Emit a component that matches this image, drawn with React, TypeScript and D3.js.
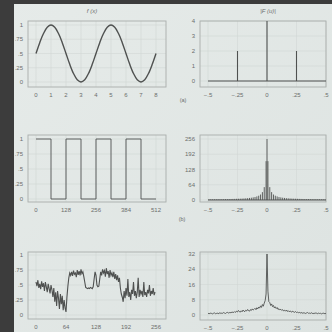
import React from 'react';
import * as d3 from 'd3';

// ---- data ----
const sineStep = 0.25;
const sineValues = [0.5, 0.69, 0.85, 0.96, 1, 0.96, 0.85, 0.69, 0.5, 0.31, 0.15, 0.04, 0, 0.04, 0.15, 0.31,
  0.5, 0.69, 0.85, 0.96, 1, 0.96, 0.85, 0.69, 0.5, 0.31, 0.15, 0.04, 0, 0.04, 0.15, 0.31, 0.5];

const impulseU = [-0.25, 0, 0.25];
const impulseMag = [2, 4, 2];

const squareEdges = [0, 64, 128, 192, 256, 320, 384, 448, 512];
const squareLevels = [1, 0, 1, 0, 1, 0, 1, 0, 0];

const squareDC = 256;
const harmonicK = [1, 3, 5, 7, 9, 11, 13, 15, 17, 19, 21, 23, 25, 27, 29, 31, 33, 35, 37, 39, 41, 43, 45, 47, 49, 51, 53, 55, 57, 59, 61, 63];
const harmonicMag = [163, 54, 33, 23, 18, 15, 12.5, 11, 9.6, 8.6, 7.8, 7.1, 6.5, 6, 5.6, 5.3, 5, 4.7, 4.4, 4.2, 4, 3.8, 3.7, 3.5, 3.4, 3.3, 3.2, 3.1, 3, 2.9, 2.9, 2.8];

const noiseStep = 2;
const noiseValues = [
  0.55, 0.48, 0.58, 0.45, 0.52, 0.43, 0.56, 0.47,
  0.53, 0.40, 0.55, 0.47, 0.38, 0.52, 0.44, 0.36, 0.50, 0.42,
  0.30, 0.45, 0.22, 0.38, 0.15, 0.40, 0.28, 0.10, 0.35, 0.18, 0.32, 0.08, 0.25, 0.12,
  0.05, 0.30, 0.48, 0.62, 0.70, 0.66,
  0.72, 0.65, 0.74, 0.68, 0.70, 0.63, 0.75, 0.67, 0.73, 0.66, 0.76, 0.69, 0.72, 0.64,
  0.55, 0.46, 0.45, 0.44, 0.45, 0.44, 0.46, 0.45, 0.44, 0.47, 0.60,
  0.72, 0.66, 0.50, 0.47, 0.48, 0.60,
  0.72, 0.66, 0.76, 0.70, 0.74, 0.64, 0.78, 0.68, 0.73, 0.62, 0.75, 0.66, 0.70, 0.63, 0.72, 0.60, 0.68, 0.58, 0.66, 0.55, 0.62, 0.45, 0.35, 0.30,
  0.22, 0.40, 0.28, 0.45, 0.32, 0.60, 0.30, 0.38, 0.25, 0.42, 0.35, 0.55, 0.32, 0.40, 0.28, 0.38, 0.62, 0.30, 0.42, 0.35,
  0.40, 0.30, 0.55, 0.33, 0.38, 0.30, 0.42, 0.36, 0.50, 0.32, 0.40, 0.35, 0.45, 0.33, 0.38];

const noiseSpecStep = 1 / 128;
const noiseSpectrum = [
  0.6, 0.9, 0.7, 1.0, 0.8, 0.6, 0.9, 1.1, 0.7, 0.8, 1.0, 0.7, 0.9, 1.2, 0.8, 1.0, 0.9, 1.3, 1.0, 0.8, 1.2, 1.4, 1.0, 1.3, 1.1, 1.5, 1.2, 1.6, 1.3, 1.8,
  1.4, 2.0, 1.6, 2.4, 1.8, 1.5, 2.2, 1.7, 2.6, 2.0, 1.8, 2.5, 2.1, 2.9, 2.3, 2.0, 2.8, 2.4, 3.2, 2.6, 3.0, 3.5, 2.8, 3.8, 3.2, 4.2,
  3.6, 4.8, 4.0, 5.5, 4.6, 6.2, 7.5, 11.0,
  32,
  12.5, 7.0, 6.5, 5.0, 5.8, 4.4, 5.0, 3.7,
  4.3, 3.4, 3.9, 2.9, 3.3, 2.7, 3.0, 2.4, 2.8, 2.2, 2.5, 2.0, 2.6, 1.9, 2.3, 1.7, 2.1, 1.8, 1.5, 2.0, 1.6, 1.4, 1.8, 1.3, 1.5, 1.2,
  1.4, 1.0, 1.3, 1.1, 0.9, 1.2, 1.0, 0.8, 1.1, 1.3, 0.9, 1.0, 0.8, 1.2, 0.9, 0.7, 1.0, 0.8, 1.1, 0.9, 0.7, 1.0, 0.8, 0.9, 0.6, 0.8, 1.0, 0.7, 0.9, 0.6];

// ticks
const unitTicks = [0, 0.25, 0.5, 0.75, 1];
const unitLabels = ['0', '.25', '.5', '.75', '1'];
const freqTicks = [-0.5, -0.25, 0, 0.25, 0.5];
const freqLabels = ['\u2212.5', '\u2212.25', '0', '.25', '.5'];
const sineTicks = [0, 1, 2, 3, 4, 5, 6, 7, 8];
const squareTicks = [0, 128, 256, 384, 512];
const noiseTicks = [0, 64, 128, 192, 256];
const impulseYTicks = [0, 1, 2, 3, 4];
const squareSpecYTicks = [0, 64, 128, 192, 256];
const noiseSpecYTicks = [0, 8, 16, 24, 32];

const BG = '#e3e8e6';
const INK = '#4f5150';
const GRID = '#d2d7d5';
const FRAME = '#a9aeac';
const LABEL = '#6b6e6d';
const FONT = '"Liberation Sans", Arial, sans-serif';

type Box = [number, number, number, number];

function Frame(props: {
  box: Box; x: any; y: any; xTicks: number[]; xLabels: string[]; yTicks: number[]; yLabels: string[]; children?: any;
}) {
  const { box, x, y, xTicks, xLabels, yTicks, yLabels } = props;
  const [x0, y0, x1, y1] = box;
  return (
    <g>
      {xTicks.map(t => (
        <line key={'gx' + t} x1={x(t)} x2={x(t)} y1={y0} y2={y1} stroke={GRID} strokeWidth={0.6} />
      ))}
      {yTicks.map(t => (
        <line key={'gy' + t} x1={x0} x2={x1} y1={y(t)} y2={y(t)} stroke={GRID} strokeWidth={0.6} />
      ))}
      <rect x={x0} y={y0} width={x1 - x0} height={y1 - y0} fill="none" stroke={FRAME} strokeWidth={0.9} />
      {props.children}
      {xTicks.map((t, i) => (
        <text key={'lx' + t} x={x(t)} y={y1 + 10} textAnchor="middle" fontSize={6} fill={LABEL} fontFamily={FONT}>{xLabels[i]}</text>
      ))}
      {yTicks.map((t, i) => (
        <text key={'ly' + t} x={x0 - 5} y={y(t) + 2} textAnchor="end" fontSize={6} fill={LABEL} fontFamily={FONT}>{yLabels[i]}</text>
      ))}
    </g>
  );
}

export default function App() {
  // panel (a)
  const boxA1: Box = [28, 21, 166, 87];
  const xA1 = d3.scaleLinear().domain([0, 8]).range([36, 156]);
  const yA1 = d3.scaleLinear().domain([0, 1]).range([82, 25]);
  const sineLine = d3.line<number>()
    .x((d, i) => xA1(i * sineStep))
    .y(d => yA1(d))
    .curve(d3.curveCatmullRom);

  const boxA2: Box = [200, 21, 326, 87];
  const xF = d3.scaleLinear().domain([-0.5, 0.5]).range([208, 326]);
  const yA2 = d3.scaleLinear().domain([0, 4]).range([81, 21]);

  // panel (b)
  const boxB1: Box = [28, 135, 166, 202];
  const xB1 = d3.scaleLinear().domain([0, 512]).range([36, 156]);
  const yB1 = d3.scaleLinear().domain([0, 1]).range([199, 139]);
  const squareLine = d3.line<number>()
    .x((d, i) => xB1(squareEdges[i]))
    .y(d => yB1(d))
    .curve(d3.curveStepAfter);

  const boxB2: Box = [200, 135, 326, 202];
  const yB2 = d3.scaleLinear().domain([0, 256]).range([200, 139]);

  // panel (c)
  const boxC1: Box = [28, 252, 166, 319];
  const xC1 = d3.scaleLinear().domain([0, 256]).range([36, 156]);
  const yC1 = d3.scaleLinear().domain([0, 1]).range([315, 255]);
  const noiseLine = d3.line<number>()
    .x((d, i) => xC1(i * noiseStep))
    .y(d => yC1(d));

  const boxC2: Box = [200, 252, 326, 320];
  const yC2 = d3.scaleLinear().domain([0, 32]).range([315, 254]);
  const specLine = d3.line<number>()
    .x((d, i) => xF(-0.5 + i * noiseSpecStep))
    .y(d => yC2(d));

  const stems: { u: number; m: number }[] = [{ u: 0, m: squareDC }];
  harmonicK.forEach((k, i) => {
    stems.push({ u: k / 128, m: harmonicMag[i] });
    stems.push({ u: -k / 128, m: harmonicMag[i] });
  });

  return (
    <svg width={332} height={332} style={{ position: 'absolute', left: 0, top: 0 }}>
      <defs>
        <linearGradient id="page" x1="0" y1="0" x2="1" y2="1">
          <stop offset="0" stopColor="#e6ebe9" />
          <stop offset="1" stopColor="#dde3e1" />
        </linearGradient>
      </defs>
      <rect width={332} height={332} fill="url(#page)" />
      <rect x={0} y={0} width={332} height={4} fill="#3c3c3c" />
      <rect x={0} y={0} width={14} height={332} fill="#3c3c3c" />

      <text x={92} y={13} textAnchor="middle" fontSize={6} fontStyle="italic" fill={LABEL} fontFamily={FONT}>f (x)</text>
      <text x={268} y={13} textAnchor="middle" fontSize={6} fontStyle="italic" fill={LABEL} fontFamily={FONT}>|F (u)|</text>

      <Frame box={boxA1} x={xA1} y={yA1} xTicks={sineTicks} xLabels={sineTicks.map(String)} yTicks={unitTicks} yLabels={unitLabels}>
        <path d={sineLine(sineValues) || ''} fill="none" stroke={INK} strokeWidth={1.4} />
      </Frame>

      <Frame box={boxA2} x={xF} y={yA2} xTicks={freqTicks} xLabels={freqLabels} yTicks={impulseYTicks} yLabels={impulseYTicks.map(String)}>
        <line x1={xF(-0.5)} x2={xF(0.5)} y1={yA2(0)} y2={yA2(0)} stroke={INK} strokeWidth={1} />
        {impulseU.map((u, i) => (
          <line key={u} x1={xF(u)} x2={xF(u)} y1={yA2(0)} y2={yA2(impulseMag[i])} stroke={INK} strokeWidth={1.1} />
        ))}
      </Frame>
      <text x={183} y={102} textAnchor="middle" fontSize={5.5} fill={LABEL} fontFamily={FONT}>(a)</text>

      <Frame box={boxB1} x={xB1} y={yB1} xTicks={squareTicks} xLabels={squareTicks.map(String)} yTicks={unitTicks} yLabels={unitLabels}>
        <path d={squareLine(squareLevels) || ''} fill="none" stroke={INK} strokeWidth={0.9} />
      </Frame>

      <Frame box={boxB2} x={xF} y={yB2} xTicks={freqTicks} xLabels={freqLabels} yTicks={squareSpecYTicks} yLabels={squareSpecYTicks.map(String)}>
        <line x1={xF(-0.5)} x2={xF(0.5)} y1={yB2(0)} y2={yB2(0)} stroke={INK} strokeWidth={1} />
        {stems.map(s => (
          <line key={s.u} x1={xF(s.u)} x2={xF(s.u)} y1={yB2(0)} y2={yB2(s.m)} stroke={INK} strokeWidth={0.9} />
        ))}
      </Frame>
      <text x={182} y={221} textAnchor="middle" fontSize={5.5} fill={LABEL} fontFamily={FONT}>(b)</text>

      <Frame box={boxC1} x={xC1} y={yC1} xTicks={noiseTicks} xLabels={noiseTicks.map(String)} yTicks={unitTicks} yLabels={unitLabels}>
        <path d={noiseLine(noiseValues) || ''} fill="none" stroke={INK} strokeWidth={1.1} />
      </Frame>

      <Frame box={boxC2} x={xF} y={yC2} xTicks={freqTicks} xLabels={freqLabels} yTicks={noiseSpecYTicks} yLabels={noiseSpecYTicks.map(String)}>
        <path d={specLine(noiseSpectrum) || ''} fill="none" stroke={INK} strokeWidth={0.9} />
      </Frame>
    </svg>
  );
}
